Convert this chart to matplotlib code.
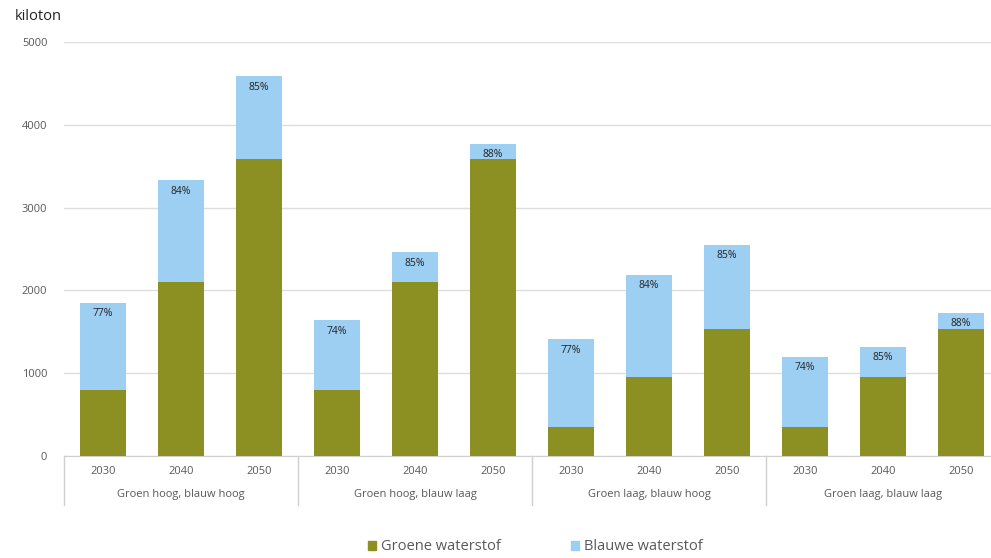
import numpy as np
import matplotlib
matplotlib.use("Agg")
import matplotlib.pyplot as plt
from matplotlib.patches import Patch

plt.rcParams['font.family'] = ['Open Sans', 'DejaVu Sans']

scenarios = ["Groen hoog, blauw hoog", "Groen hoog, blauw laag",
             "Groen laag, blauw hoog", "Groen laag, blauw laag"]
years = ["2030", "2040", "2050"]

# kiloton per scenario/year, in order of the scenarios above
groen = [800, 2100, 3590, 800, 2100, 3590, 350, 950, 1530, 350, 950, 1530]
blauw = [1050, 1230, 1000, 840, 360, 180, 1060, 1240, 1020, 850, 370, 200]
aandeel = ["77%", "84%", "85%", "74%", "85%", "88%",
           "77%", "84%", "85%", "74%", "85%", "88%"]

GREEN = "#8c9023"
BLUE = "#9dcff3"
GRID = "#dedede"
TXT = "#595959"

fig = plt.figure(figsize=(9.91, 5.58), dpi=100)
ax = fig.add_axes([64 / 991, 102 / 558, 936 / 991, 414 / 558])

x = np.arange(len(groen))
ax.bar(x, groen, width=0.59, color=GREEN, zorder=3)
ax.bar(x, blauw, width=0.59, bottom=groen, color=BLUE, zorder=3)

totals = np.array(groen) + np.array(blauw)
for xi, tot, lab in zip(x, totals, aandeel):
    ax.annotate(lab, (xi, tot), xytext=(0, -4), textcoords="offset points",
                ha="center", va="top", fontsize=7.5, color="#222222", zorder=4)

ax.set_xlim(-0.5, len(groen) - 0.5)
ax.set_ylim(0, 5000)
ax.set_yticks(np.arange(0, 5001, 1000))
ax.yaxis.grid(True, color=GRID, linewidth=1)
ax.set_axisbelow(True)
ax.tick_params(axis="y", length=0, pad=12, labelsize=8, labelcolor=TXT)
ax.set_xticks([])
for s in ["top", "right", "left"]:
    ax.spines[s].set_visible(False)
ax.spines["bottom"].set_color("#cfcfcf")

# year labels and scenario groups under the axis
trans = ax.get_xaxis_transform()
for xi in x:
    ax.text(xi, -0.038, years[xi % 3], transform=trans, ha="center",
            va="center", fontsize=8, color=TXT)
for gi, name in enumerate(scenarios):
    ax.text(gi * 3 + 1, -0.094, name, transform=trans, ha="center",
            va="center", fontsize=8, color=TXT)
    ax.plot([gi * 3 - 0.5] * 2, [0, -0.118], transform=trans, color="#cfcfcf",
            linewidth=1, clip_on=False)

fig.text(15 / 991, 1 - 16 / 558, "kiloton", fontsize=10.5, color="#222222",
         va="center", ha="left")

handles = [Patch(color=GREEN, label="Groene waterstof"),
           Patch(color=BLUE, label="Blauwe waterstof")]
fig.legend(handles=handles, loc="center", bbox_to_anchor=(0.540, 1 - 547 / 558),
           ncol=2, frameon=False, fontsize=10.5, handlelength=0.55,
           handleheight=0.55, handletextpad=0.35, columnspacing=4.8,
           labelcolor=TXT)

fig.savefig("out.png", dpi=100)
